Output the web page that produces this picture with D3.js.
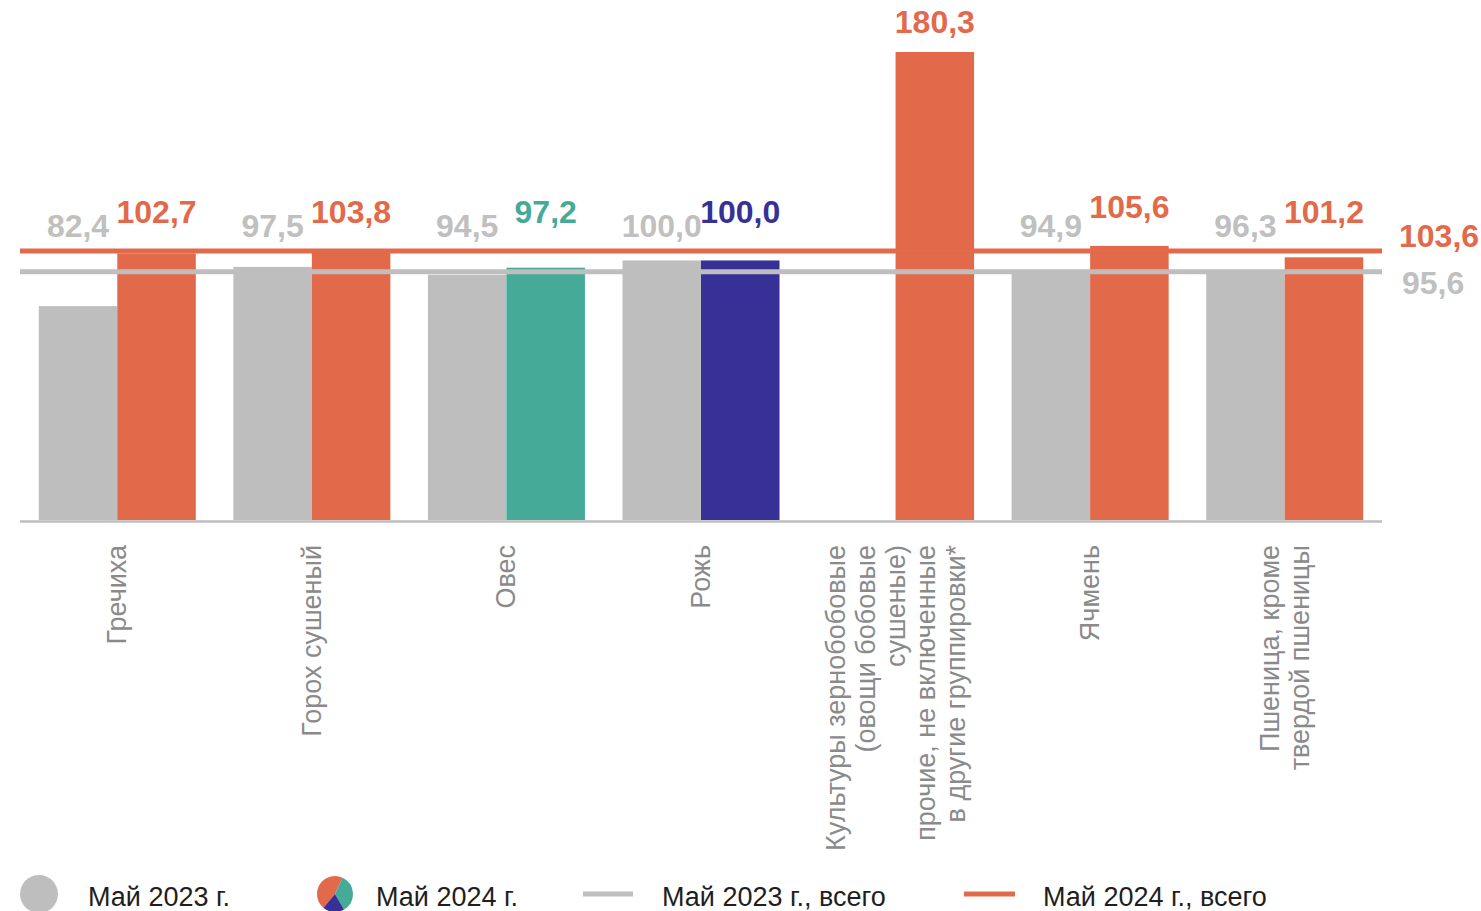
<!DOCTYPE html>
<html><head><meta charset="utf-8">
<script src="https://cdn.jsdelivr.net/npm/d3@7"></script>
<style>
html,body{margin:0;padding:0;background:#fff;}
svg{display:block;font-family:"Liberation Sans",Arial,sans-serif;}
</style></head>
<body><svg id="chart" width="1481" height="911"></svg>
<script>
const categories = ["Гречиха","Горох сушеный","Овес","Рожь","Культуры зернобобовые (овощи бобовые сушеные) прочие, не включенные в другие группировки*","Ячмень","Пшеница, кроме твердой пшеницы"];
const categoryLines = [["Гречиха"],["Горох сушеный"],["Овес"],["Рожь"],["Культуры зернобобовые","(овощи бобовые","сушеные)","прочие, не включенные","в другие группировки*"],["Ячмень"],["Пшеница, кроме","твердой пшеницы"]];
const may2023 = [82.4, 97.5, 94.5, 100.0, null, 94.9, 96.3];
const may2024 = [102.7, 103.8, 97.2, 100.0, 180.3, 105.6, 101.2];
const may2024Colors = ["#E2694A","#E2694A","#45AA98","#373096","#E2694A","#E2694A","#E2694A"];
const total2023 = 95.6;
const total2024 = 103.6;
const seriesNames = ["Май 2023 г.","Май 2024 г.","Май 2023 г., всего","Май 2024 г., всего"];

const GRAY = "#BEBEBE", ORANGE = "#E2694A", TEAL = "#45AA98", NAVY = "#373096";
const fmt = v => d3.format(".1f")(v).replace(".", ",");

const svg = d3.select("#chart");
const left = 20, right = 1382, baseY = 520, topY = 52;

const x0 = d3.scaleBand().domain(categories).range([left, right]).paddingInner(0.193).paddingOuter(0.0965);
const x1 = d3.scaleBand().domain(["2023","2024"]).range([0, x0.bandwidth()]);
const y = d3.scaleLinear().domain([0, d3.max(may2024)]).range([baseY, topY]);

const rows = categories.map((c,i)=>({c, i, v23: may2023[i], v24: may2024[i], col: may2024Colors[i]}));

const g = svg.append("g");
g.selectAll("rect.b23").data(rows.filter(d=>d.v23!=null)).join("rect")
  .attr("x", d=>x0(d.c)+x1("2023")).attr("width", x1.bandwidth())
  .attr("y", d=>y(d.v23)).attr("height", d=>baseY - y(d.v23)).attr("fill", GRAY);
g.selectAll("rect.b24").data(rows).join("rect")
  .attr("x", d=>x0(d.c)+x1("2024")).attr("width", x1.bandwidth())
  .attr("y", d=>y(d.v24)).attr("height", d=>baseY - y(d.v24)).attr("fill", d=>d.col);

svg.append("line").attr("x1", left).attr("x2", right).attr("y1", baseY+1.5).attr("y2", baseY+1.5)
  .attr("stroke", GRAY).attr("stroke-width", 2.5);

svg.append("line").attr("x1", left).attr("x2", right).attr("y1", y(total2024)).attr("y2", y(total2024))
  .attr("stroke", ORANGE).attr("stroke-width", 5);
svg.append("line").attr("x1", left).attr("x2", right).attr("y1", y(total2023)).attr("y2", y(total2023))
  .attr("stroke", GRAY).attr("stroke-width", 5);

const yTot = y(total2024);
g.selectAll("text.l23").data(rows.filter(d=>d.v23!=null)).join("text")
  .attr("x", d=>x0(d.c)+x1("2023")+x1.bandwidth()/2)
  .attr("y", d=>Math.min(y(d.v23), yTot) - 14)
  .attr("text-anchor","middle").attr("font-size",32).attr("font-weight","bold")
  .attr("fill", "#C0C0C0").text(d=>fmt(d.v23));
g.selectAll("text.l24").data(rows).join("text")
  .attr("x", d=>x0(d.c)+x1("2024")+x1.bandwidth()/2)
  .attr("y", d=>Math.max(33, Math.min(y(d.v24), yTot) - 28))
  .attr("text-anchor","middle").attr("font-size",32).attr("font-weight","bold")
  .attr("fill", d=>d.col).text(d=>fmt(d.v24));

svg.append("text").attr("x", right+17).attr("y", y(total2024)-4).attr("font-size",32).attr("font-weight","bold")
  .attr("fill", ORANGE).text(fmt(total2024));
svg.append("text").attr("x", right+20).attr("y", y(total2023)+22).attr("font-size",32).attr("font-weight","bold")
  .attr("fill", "#C0C0C0").text(fmt(total2023));

const lineGap = 30;
const cl = svg.selectAll("text.cat").data(rows).join("text")
  .attr("transform", d=>`translate(${x0(d.c)+x0.bandwidth()/2},545) rotate(-90)`)
  .attr("text-anchor","end").attr("font-size",27).attr("fill","#8A8A8A");
cl.each(function(d){
  const lines = categoryLines[d.i];
  const n = lines.length;
  d3.select(this).selectAll("tspan").data(lines).join("tspan")
    .attr("x",0).attr("y",(l,k)=> (k-(n-1)/2)*lineGap + 9).text(l=>l);
});

const ly = 894;
const leg = svg.append("g");
leg.append("circle").attr("cx",39).attr("cy",ly).attr("r",19).attr("fill",GRAY);
const pie = leg.append("g").attr("transform",`translate(335,${ly})`);
const arc = d3.arc().innerRadius(0).outerRadius(18);
const deg = Math.PI/180;
[[-140,25,ORANGE],[25,150,TEAL],[150,220,NAVY]].forEach(([a,b,c])=>{
  pie.append("path").attr("d", arc({startAngle:a*deg, endAngle:b*deg})).attr("fill",c);
});
leg.append("line").attr("x1",583).attr("x2",633).attr("y1",ly).attr("y2",ly).attr("stroke",GRAY).attr("stroke-width",5);
leg.append("line").attr("x1",964).attr("x2",1015).attr("y1",ly).attr("y2",ly).attr("stroke",ORANGE).attr("stroke-width",5);
const lx = [88, 376, 662, 1043];
leg.selectAll("text").data(seriesNames).join("text")
  .attr("x",(d,i)=>lx[i]).attr("y",906).attr("font-size",27).attr("fill","#1E1E1E").text(d=>d);
</script></body></html>
